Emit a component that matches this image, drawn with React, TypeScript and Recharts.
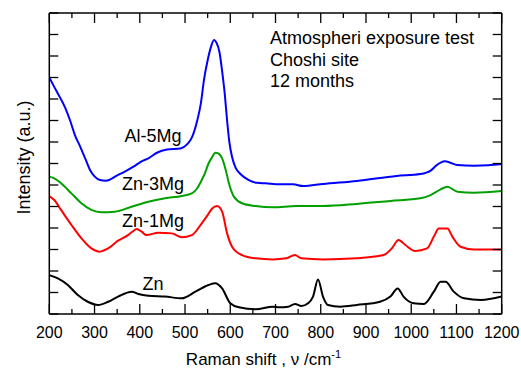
import React from "react";
import { LineChart, Line, XAxis, YAxis, Customized } from "recharts";

// ---- data ----
const al5MgShift = [200, 210, 223, 235, 246, 257, 268, 280, 290, 300, 312, 325, 334, 350, 365, 386, 404, 420, 438, 460, 490, 505, 515, 527, 535, 542, 550, 557, 564, 570, 576, 582, 588, 593, 598, 604, 612, 623, 641, 660, 678, 708, 739, 761, 805, 880, 968, 1020, 1043, 1055, 1065, 1075, 1085, 1102, 1139, 1170, 1200];
const al5MgIntensity = [11.0, 10.6, 10.1, 9.6, 9.0, 8.3, 7.8, 7.2, 6.7, 6.4, 6.23, 6.2, 6.25, 6.45, 6.6, 6.85, 7.1, 7.25, 7.5, 7.65, 7.7, 7.9, 8.2, 9.0, 9.8, 10.9, 11.8, 12.4, 12.75, 12.6, 12.2, 11.3, 10.2, 9.0, 8.0, 7.3, 6.8, 6.5, 6.23, 6.1, 6.08, 6.03, 6.03, 5.95, 6.05, 6.19, 6.42, 6.51, 6.67, 6.9, 7.04, 7.1, 7.05, 6.93, 6.9, 6.92, 6.98];

const zn3MgShift = [200, 211, 226, 249, 271, 293, 315, 345, 382, 419, 456, 493, 515, 527, 537, 545, 552, 560, 567, 575, 582, 590, 597, 608, 626, 656, 694, 746, 805, 880, 954, 1020, 1043, 1065, 1080, 1102, 1139, 1200];
const zn3MgIntensity = [6.39, 6.31, 6.08, 5.61, 5.15, 4.84, 4.73, 4.76, 4.99, 5.22, 5.38, 5.49, 5.61, 5.85, 6.23, 6.6, 7.0, 7.3, 7.5, 7.45, 7.24, 6.7, 6.08, 5.46, 5.15, 5.02, 4.96, 5.02, 5.02, 5.12, 5.26, 5.38, 5.53, 5.8, 5.92, 5.69, 5.64, 5.72];

const zn1MgShift = [200, 211, 226, 249, 271, 293, 311, 330, 352, 374, 385, 393, 404, 415, 441, 471, 493, 515, 537, 550, 560, 571, 582, 593, 604, 626, 656, 694, 724, 743, 757, 805, 880, 939, 957, 972, 987, 1009, 1035, 1050, 1061, 1080, 1091, 1109, 1139, 1200];
const zn1MgIntensity = [5.49, 5.3, 4.84, 4.14, 3.52, 3.05, 2.9, 3.05, 3.41, 3.67, 3.85, 3.95, 3.83, 3.67, 3.78, 3.75, 3.57, 3.67, 4.22, 4.6, 4.91, 5.02, 4.76, 3.75, 3.13, 2.74, 2.59, 2.54, 2.59, 2.74, 2.59, 2.54, 2.59, 2.74, 3.05, 3.44, 3.21, 2.93, 3.05, 3.6, 3.98, 3.98, 3.6, 3.13, 3.0, 3.0];

const znShift = [200, 219, 241, 263, 285, 308, 330, 352, 382, 397, 419, 456, 493, 523, 552, 567, 582, 600, 619, 656, 694, 709, 728, 743, 757, 772, 783, 794, 805, 816, 843, 880, 931, 954, 970, 983, 1005, 1028, 1050, 1065, 1076, 1094, 1117, 1154, 1200];
const znIntensity = [1.81, 1.66, 1.35, 0.88, 0.57, 0.42, 0.57, 0.81, 1.04, 0.93, 0.85, 0.81, 0.73, 1.04, 1.35, 1.43, 1.19, 0.5, 0.31, 0.22, 0.34, 0.31, 0.34, 0.47, 0.37, 0.5, 0.81, 1.61, 0.81, 0.42, 0.34, 0.42, 0.57, 0.81, 1.19, 0.81, 0.5, 0.47, 1.04, 1.5, 1.5, 1.04, 0.73, 0.65, 0.81];

const xTicks = [200, 250, 300, 350, 400, 450, 500, 550, 600, 650, 700, 750, 800, 850, 900, 950, 1000, 1050, 1100, 1150, 1200];
const yTicks = [0, 1, 2, 3, 4, 5, 6, 7, 8, 9, 10, 11, 12, 13, 14];

const seriesNames = ["Al-5Mg", "Zn-3Mg", "Zn-1Mg", "Zn"];
const noteLines = ["Atmospheri exposure test", "Choshi site", "12 months"];

const toPoints = (xs: number[], ys: number[]) => xs.map((x, i) => ({ x, y: ys[i] }));

const FONT = "'Liberation Sans', Arial, sans-serif";

const BottomTick = (props: any) => {
  const { x, y, payload } = props;
  const major = payload.value % 100 === 0;
  return (
    <g>
      <line x1={x} x2={x} y1={y} y2={y - (major ? 10 : 5)} stroke="#000" strokeWidth={1.3} />
      {major && (
        <text x={x} y={y + 24} textAnchor="middle" fontSize={16} fontFamily={FONT} fill="#000">
          {payload.value}
        </text>
      )}
    </g>
  );
};

const TopTick = (props: any) => {
  const { x, y, payload } = props;
  const major = payload.value % 100 === 0;
  return <line x1={x} x2={x} y1={y} y2={y + (major ? 10 : 5)} stroke="#000" strokeWidth={1.3} />;
};

const LeftTick = (props: any) => {
  const { x, y } = props;
  return <line x1={x} x2={x + 9} y1={y} y2={y} stroke="#000" strokeWidth={1.3} />;
};

const RightTick = (props: any) => {
  const { x, y } = props;
  return <line x1={x} x2={x - 9} y1={y} y2={y} stroke="#000" strokeWidth={1.3} />;
};

const Annotations = () => (
  <g fontFamily={FONT} fill="#000">
    <text x={263.5} y={365} textAnchor="middle" fontSize={17}>
      Raman shift , ν /cm<tspan dy={-7} fontSize={11}>-1</tspan>
    </text>
    <text x={30} y={157.5} textAnchor="middle" fontSize={18} transform="rotate(-90, 30, 157.5)">
      Intensity (a.u.)
    </text>
    {noteLines.map((t, i) => (
      <text key={t} x={270} y={44 + i * 21.5} fontSize={18}>
        {t}
      </text>
    ))}
    <text x={153} y={141.7} textAnchor="middle" fontSize={18}>{seriesNames[0]}</text>
    <text x={153} y={189.5} textAnchor="middle" fontSize={18}>{seriesNames[1]}</text>
    <text x={153} y={226.7} textAnchor="middle" fontSize={18}>{seriesNames[2]}</text>
    <text x={153} y={290} textAnchor="middle" fontSize={18}>{seriesNames[3]}</text>
  </g>
);

export default function App() {
  const series = [
    { name: seriesNames[0], data: toPoints(al5MgShift, al5MgIntensity), color: "#0000ff" },
    { name: seriesNames[1], data: toPoints(zn3MgShift, zn3MgIntensity), color: "#00a000" },
    { name: seriesNames[2], data: toPoints(zn1MgShift, zn1MgIntensity), color: "#ff0000" },
    { name: seriesNames[3], data: toPoints(znShift, znIntensity), color: "#000000" },
  ];
  return (
    <div style={{ position: "absolute", left: 0, top: 0, width: 521, height: 370, background: "#fff" }}>
      <LineChart width={521} height={370} margin={{ top: 12, right: 18.3, bottom: 26, left: 19.3 }}>
        <XAxis
          xAxisId="b"
          dataKey="x"
          type="number"
          domain={[200, 1200]}
          ticks={xTicks}
          interval={0}
          height={30}
          tickSize={0}
          tickMargin={0}
          tickLine={false}
          tick={<BottomTick />}
          axisLine={{ stroke: "#000", strokeWidth: 1.5 }}
          allowDataOverflow
        />
        <XAxis
          xAxisId="t"
          orientation="top"
          dataKey="x"
          type="number"
          domain={[200, 1200]}
          ticks={xTicks}
          interval={0}
          height={1}
          tickSize={0}
          tickMargin={0}
          tickLine={false}
          tick={<TopTick />}
          axisLine={{ stroke: "#000", strokeWidth: 1.5 }}
          allowDataOverflow
        />
        <YAxis
          yAxisId="l"
          type="number"
          domain={[0, 14]}
          ticks={yTicks}
          interval={0}
          width={30}
          tickSize={0}
          tickMargin={0}
          tickLine={false}
          tick={<LeftTick />}
          axisLine={{ stroke: "#000", strokeWidth: 1.5 }}
          allowDataOverflow
        />
        <YAxis
          yAxisId="r"
          orientation="right"
          type="number"
          domain={[0, 14]}
          ticks={yTicks}
          interval={0}
          width={1}
          tickSize={0}
          tickMargin={0}
          tickLine={false}
          tick={<RightTick />}
          axisLine={{ stroke: "#000", strokeWidth: 1.5 }}
          allowDataOverflow
        />
        {series.map((s) => (
          <Line
            key={s.name}
            xAxisId="b"
            yAxisId="l"
            data={s.data}
            dataKey="y"
            name={s.name}
            type="monotone"
            stroke={s.color}
            strokeWidth={2}
            dot={false}
            isAnimationActive={false}
          />
        ))}
        <Customized component={Annotations} />
      </LineChart>
    </div>
  );
}
